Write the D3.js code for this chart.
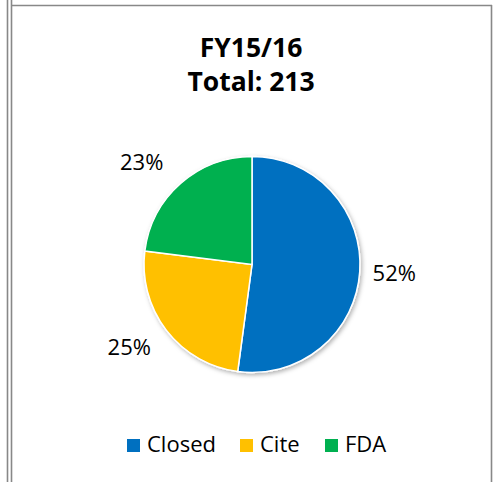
<!DOCTYPE html>
<html>
<head>
<meta charset="utf-8">
<script src="https://cdn.jsdelivr.net/npm/d3@7"></script>
<style>
  body { margin: 0; background: #fff; }
  svg { display: block; font-family: 'Open Sans', sans-serif; }
</style>
</head>
<body>
<svg id="chart"></svg>
<script>
const categories = ['Closed', 'Cite', 'FDA']
const counts = [111, 53, 49]
const colors = ['#0070C0', '#FFC000', '#00B050']
const titleLines = ['FY15/16', 'Total: ' + d3.sum(counts)]

const W = 495, H = 482
const cx = 252, cy = 264.5, r = 108

const svg = d3.select('#chart').attr('width', W).attr('height', H)

// frame lines of the surrounding table
const frame = svg.append('g').attr('stroke', '#888').attr('stroke-width', 1.6)
frame.append('line').attr('x1', 7.5).attr('x2', 7.5).attr('y1', 0).attr('y2', H)
frame.append('line').attr('x1', 11.5).attr('x2', 11.5).attr('y1', 0).attr('y2', H)
frame.append('line').attr('x1', 11).attr('x2', 492).attr('y1', 5.5).attr('y2', 5.5)
frame.append('line').attr('x1', 491.5).attr('x2', 491.5).attr('y1', 5).attr('y2', H)

// title
svg
  .append('g')
  .selectAll('text')
  .data(titleLines)
  .enter()
  .append('text')
  .attr('x', 251)
  .attr('y', (d, i) => 57 + i * 34)
  .attr('text-anchor', 'middle')
  .attr('font-size', 26.5)
  .attr('font-weight', 'bold')
  .attr('fill', '#000')
  .text((d) => d)

const defs = svg.append('defs')
defs
  .append('filter')
  .attr('id', 'shadow')
  .attr('x', '-20%').attr('y', '-20%').attr('width', '140%').attr('height', '140%')
  .append('feDropShadow')
  .attr('dx', 1.5).attr('dy', 2)
  .attr('stdDeviation', 2)
  .attr('flood-color', '#000')
  .attr('flood-opacity', 0.3)

const pie = d3.pie().sort(null).value((d) => d)
const arcs = pie(counts)
const arc = d3.arc().innerRadius(0).outerRadius(r)
const total = d3.sum(counts)

const g = svg.append('g').attr('transform', `translate(${cx},${cy})`)

g.append('g')
  .attr('filter', 'url(#shadow)')
  .selectAll('path')
  .data(arcs)
  .enter()
  .append('path')
  .attr('d', arc)
  .attr('fill', (d, i) => colors[i])
  .attr('stroke', '#fff')
  .attr('stroke-width', 1.5)

// percentage labels outside the slices
const lrx = 95, lry = 136, lpad = 47.5
g.selectAll('.lbl')
  .data(arcs)
  .enter()
  .append('text')
  .attr('class', 'lbl')
  .attr('text-anchor', 'middle')
  .attr('dy', '0.36em')
  .attr('font-size', 22)
  .attr('fill', '#000')
  .attr('transform', (d) => {
    const a = (d.startAngle + d.endAngle) / 2
    const s = Math.sin(a), c = Math.cos(a)
    return `translate(${s * lrx + Math.sign(s) * lpad},${-c * lry})`
  })
  .text((d) => Math.round((d.value / total) * 100) + '%')

// legend
const legendX = [127, 240, 325]
const legend = svg
  .append('g')
  .selectAll('g')
  .data(categories)
  .enter()
  .append('g')
  .attr('transform', (d, i) => `translate(${legendX[i]},439)`)
legend
  .append('rect')
  .attr('width', 13)
  .attr('height', 13)
  .attr('fill', (d, i) => colors[i])
legend
  .append('text')
  .attr('x', 20)
  .attr('y', 13)
  .attr('font-size', 22)
  .attr('fill', '#000')
  .text((d) => d)
</script>
</body>
</html>
